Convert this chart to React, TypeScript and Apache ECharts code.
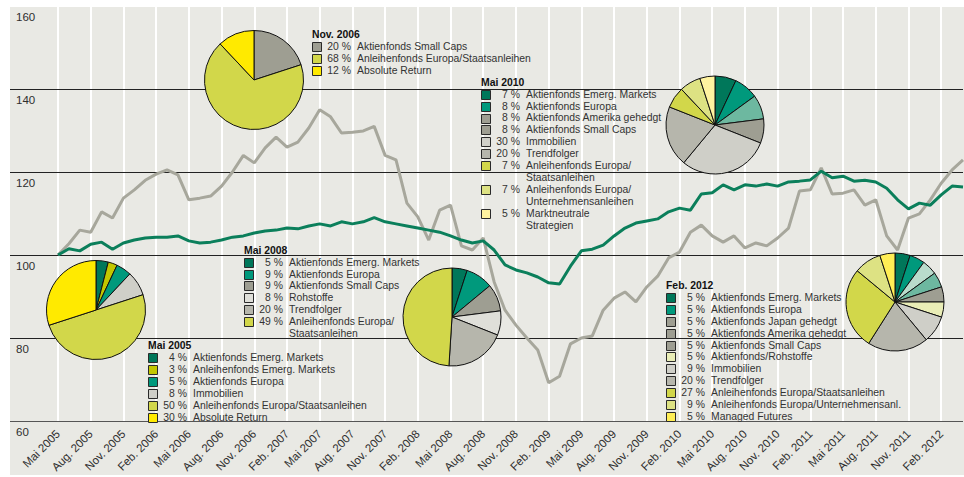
import React, { useEffect, useRef } from "react";
import * as echarts from "echarts";

const FONT = '"Liberation Sans", Arial, Helvetica, sans-serif';

const MONTH_NAMES = ["Jan.", "Feb.", "März", "Apr.", "Mai", "Juni", "Juli", "Aug.", "Sep.", "Okt.", "Nov.", "Dez."];
const START_YEAR = 2005;
const START_MONTH = 4;
const MONTH_COUNT = 84;
const months: string[] = Array.from({ length: MONTH_COUNT }, (_, i) => {
  const m = START_MONTH + i;
  return `${MONTH_NAMES[m % 12]} ${START_YEAR + Math.floor(m / 12)}`;
});

const yTicks = [60, 80, 100, 120, 140, 160];

const grayValues = [
  100, 102.7, 106, 105.5, 110.4, 108.9, 113.7, 115.7, 118, 119.5, 120.5, 119.3,
  113.3, 113.7, 114.2, 116.6, 120, 124, 122.2, 125.8, 128.4, 126, 127.2, 130.6,
  135, 133.3, 129.4, 129.6, 129.9, 131, 124, 122.9, 112.5, 109.2, 103.6, 110.8,
  112, 102.2, 101.2, 104.1, 93.5, 86.7, 83.1, 80, 77.1, 69.2, 70.8, 78.6,
  80, 80.5, 86.7, 89.6, 91.1, 88.7, 92.3, 94.9, 99.3, 100.7, 105.5, 107.2,
  104.6, 103.1, 104.6, 101.7, 102.9, 102.2, 104.1, 106.5, 115.4, 115.7, 121, 114.7,
  114.9, 115.7, 112, 113.3, 104.6, 101.2, 108.9, 109.9, 113.3, 117.3, 120.5, 122.9,
];
const greenValues = [
  100, 101.5, 101, 102.6, 103.1, 101.4, 102.9, 103.6, 104.1, 104.3, 104.3, 104.6,
  103.4, 102.9, 103.1, 103.6, 104.3, 104.6, 105.3, 105.8, 106, 106.5, 106.3, 107,
  107.5, 107, 108, 107.5, 108, 109, 108, 107.5, 107, 106.5, 106, 105.5,
  104.6, 103.6, 102.9, 103.4, 101.2, 97.6, 96.4, 95.7, 94.7, 93.3, 93, 97.3,
  101, 101.4, 102.4, 104.6, 106.5, 107.7, 108.2, 108.7, 110.4, 111.3, 110.8, 114.7,
  115, 116.9, 115.7, 116.9, 116.6, 117.1, 116.6, 117.6, 117.8, 118.1, 120.2, 118.6,
  119, 117.8, 118, 117.6, 116.1, 113.3, 111.1, 112.5, 112, 114.5, 116.6, 116.4,
];

const mai2005Title = "Mai 2005";
const mai2005Shares = [4, 3, 5, 8, 50, 30];
const mai2005Labels = [
  "Aktienfonds Emerg. Markets",
  "Anleihenfonds Emerg. Markets",
  "Aktienfonds Europa",
  "Immobilien",
  "Anleihenfonds Europa/Staatsanleihen",
  "Absolute Return",
];

const nov2006Title = "Nov. 2006";
const nov2006Shares = [20, 68, 12];
const nov2006Labels = ["Aktienfonds Small Caps", "Anleihenfonds Europa/Staatsanleihen", "Absolute Return"];

const mai2008Title = "Mai 2008";
const mai2008Shares = [5, 9, 9, 8, 20, 49];
const mai2008Labels = [
  "Aktienfonds Emerg. Markets",
  "Aktienfonds Europa",
  "Aktienfonds Small Caps",
  "Rohstoffe",
  "Trendfolger",
  "Anleihenfonds Europa/\nStaatsanleihen",
];

const mai2010Title = "Mai 2010";
const mai2010Shares = [7, 8, 8, 8, 30, 20, 7, 7, 5];
const mai2010Labels = [
  "Aktienfonds Emerg. Markets",
  "Aktienfonds Europa",
  "Aktienfonds Amerika gehedgt",
  "Aktienfonds Small Caps",
  "Immobilien",
  "Trendfolger",
  "Anleihenfonds Europa/\nStaatsanleihen",
  "Anleihenfonds Europa/\nUnternehmensanleihen",
  "Marktneutrale\nStrategien",
];

const feb2012Title = "Feb. 2012";
const feb2012Shares = [5, 5, 5, 5, 5, 5, 9, 20, 27, 9, 5];
const feb2012Labels = [
  "Aktienfonds Emerg. Markets",
  "Aktienfonds Europa",
  "Aktienfonds Japan gehedgt",
  "Aktienfonds Amerika gehedgt",
  "Aktienfonds Small Caps",
  "Aktienfonds/Rohstoffe",
  "Immobilien",
  "Trendfolger",
  "Anleihenfonds Europa/Staatsanleihen",
  "Anleihenfonds Europa/Unternehmensanl.",
  "Managed Futures",
];

const C = {
  dkGreen: "#00775a",
  teal: "#00997c",
  ltTeal: "#6db8a0",
  paleTeal: "#b9dccc",
  gray: "#9e9e92",
  midGray: "#b6b6ac",
  ltGray: "#cfcfc8",
  paleGray: "#dfdfd9",
  yGreen: "#d2d74a",
  olive: "#c2c700",
  ltYGreen: "#dde283",
  paleYellowGreen: "#e9edb6",
  yellow: "#ffea00",
  ltYellow: "#fff3a0",
  yellow2: "#ffee55",
};
const mai2005Pie = [C.dkGreen, C.olive, C.teal, C.ltGray, C.yGreen, C.yellow];
const nov2006Pie = [C.gray, C.yGreen, C.yellow];
const mai2008Pie = [C.dkGreen, C.teal, C.gray, C.paleGray, C.midGray, C.yGreen];
const mai2010Pie = [C.dkGreen, C.teal, C.ltTeal, C.gray, C.ltGray, C.midGray, C.yGreen, C.ltYGreen, C.ltYellow];
const mai2010Swatch = [C.dkGreen, C.teal, C.gray, C.gray, C.ltGray, C.midGray, C.yGreen, C.ltYGreen, C.ltYellow];
const feb2012Pie = [C.dkGreen, C.teal, C.paleTeal, C.ltTeal, C.gray, C.paleYellowGreen, C.ltGray, C.midGray, C.yGreen, C.ltYGreen, C.yellow2];
const feb2012Swatch = [C.dkGreen, C.teal, C.gray, C.gray, C.gray, C.paleYellowGreen, C.ltGray, C.midGray, C.yGreen, C.ltYGreen, C.yellow2];

const LINE_STEP = 11.9;
const LEGEND_FONT = 10.4;

function buildLegend(title: string, shares: number[], labels: string[], colors: string[], x: number, titleY: number) {
  const els: any[] = [];
  els.push({
    type: "text",
    x,
    y: titleY,
    z: 50,
    silent: true,
    style: { text: title, fill: "#111", font: `bold ${LEGEND_FONT}px ${FONT}`, align: "left", verticalAlign: "middle" },
  });
  let rowY = titleY + 12.2;
  shares.forEach((v, i) => {
    els.push({
      type: "rect",
      z: 50,
      silent: true,
      shape: { x: Math.round(x) + 0.5, y: Math.round(rowY - 4.5) + 0.5, width: 9, height: 9 },
      style: { fill: colors[i], stroke: "#2a2a2a", lineWidth: 1 },
    });
    els.push({
      type: "text",
      x: x + 39,
      y: rowY - LINE_STEP / 2,
      z: 50,
      silent: true,
      style: { text: `${v} %`, fill: "#333", font: `${LEGEND_FONT}px ${FONT}`, align: "right", verticalAlign: "top", lineHeight: LINE_STEP },
    });
    els.push({
      type: "text",
      x: x + 45,
      y: rowY - LINE_STEP / 2,
      z: 50,
      silent: true,
      style: { text: labels[i], fill: "#333", font: `${LEGEND_FONT}px ${FONT}`, align: "left", verticalAlign: "top", lineHeight: LINE_STEP },
    });
    rowY += LINE_STEP * labels[i].split("\n").length;
  });
  return els;
}

function pieSeries(shares: number[], labels: string[], colors: string[], cx: number, cy: number, r: number) {
  return {
    type: "pie",
    silent: true,
    z: 10,
    center: [cx, cy],
    radius: r,
    startAngle: 90,
    clockwise: true,
    label: { show: false },
    labelLine: { show: false },
    emphasis: { disabled: true },
    itemStyle: { borderColor: "#111", borderWidth: 1 },
    data: shares.map((v, i) => ({ value: v, name: labels[i], itemStyle: { color: colors[i] } })),
  };
}

export default function App() {
  const ref = useRef<HTMLDivElement>(null);
  useEffect(() => {
    if (!ref.current) return;
    const chart = echarts.init(ref.current, undefined, { renderer: "svg" });
    const option: any = {
      animation: false,
      backgroundColor: "#e9e9e4",
      textStyle: { fontFamily: FONT },
      grid: [
        { left: 10, right: 1, top: 6, bottom: 56 },
        { left: 58, right: 1, top: 6, bottom: 56 },
      ],
      xAxis: [
        { gridIndex: 0, type: "value", min: 0, max: 1, show: false },
        {
          gridIndex: 1,
          type: "category",
          data: months,
          boundaryGap: false,
          z: 2,
          axisLine: { show: false },
          axisTick: { show: false },
          axisLabel: { interval: 2, rotate: 45, fontSize: 11.5, color: "#2e2e2e", margin: 11, fontFamily: FONT },
          splitLine: { show: true, interval: 2, lineStyle: { color: "#ffffff", width: 2 } },
        },
      ],
      yAxis: [
        {
          gridIndex: 0,
          type: "value",
          min: yTicks[0],
          max: yTicks[yTicks.length - 1],
          interval: 20,
          z: 3,
          axisLine: { show: false },
          axisTick: { show: false },
          axisLabel: {
            inside: true,
            margin: 6,
            verticalAlign: "top",
            padding: [5, 0, 0, 0],
            fontSize: 11.5,
            color: "#2e2e2e",
            fontFamily: FONT,
          },
          splitLine: {
            show: true,
            lineStyle: { color: ["#555", "#222", "#222", "#222", "#222", "rgba(0,0,0,0)"], width: 1 },
          },
        },
        { gridIndex: 1, type: "value", min: yTicks[0], max: yTicks[yTicks.length - 1], show: false },
      ],
      graphic: [
        { type: "rect", z: 60, silent: true, shape: { x: 0, y: 0, width: 964, height: 7 }, style: { fill: "#ffffff" } },
        { type: "rect", z: 60, silent: true, shape: { x: 0, y: 0, width: 10, height: 477 }, style: { fill: "#ffffff" } },
        { type: "rect", z: 60, silent: true, shape: { x: 0, y: 475, width: 964, height: 2 }, style: { fill: "#ffffff" } },
        ...buildLegend(nov2006Title, nov2006Shares, nov2006Labels, nov2006Pie, 312, 34.7),
        ...buildLegend(mai2010Title, mai2010Shares, mai2010Labels, mai2010Swatch, 481, 82),
        ...buildLegend(mai2008Title, mai2008Shares, mai2008Labels, mai2008Pie, 244, 250),
        ...buildLegend(mai2005Title, mai2005Shares, mai2005Labels, mai2005Pie, 148, 345.7),
        ...buildLegend(feb2012Title, feb2012Shares, feb2012Labels, feb2012Swatch, 666, 285.3),
      ],
      series: [
        {
          type: "line",
          xAxisIndex: 1,
          yAxisIndex: 1,
          data: grayValues,
          showSymbol: false,
          silent: true,
          z: 5,
          lineStyle: { color: "#a7a79c", width: 3 },
        },
        {
          type: "line",
          xAxisIndex: 1,
          yAxisIndex: 1,
          data: greenValues,
          showSymbol: false,
          silent: true,
          z: 6,
          lineStyle: { color: "#0b7f5b", width: 3 },
        },
        pieSeries(mai2005Shares, mai2005Labels, mai2005Pie, 96, 310, 49.5),
        pieSeries(nov2006Shares, nov2006Labels, nov2006Pie, 254, 80, 49.5),
        pieSeries(mai2008Shares, mai2008Labels, mai2008Pie, 452, 317, 49),
        pieSeries(mai2010Shares, mai2010Labels, mai2010Pie, 715, 125, 49),
        pieSeries(feb2012Shares, feb2012Labels, feb2012Pie, 895, 302, 49),
      ],
    };
    chart.setOption(option);
    return () => chart.dispose();
  }, []);
  return <div ref={ref} style={{ position: "absolute", left: 0, top: 0, width: 964, height: 477 }} />;
}
